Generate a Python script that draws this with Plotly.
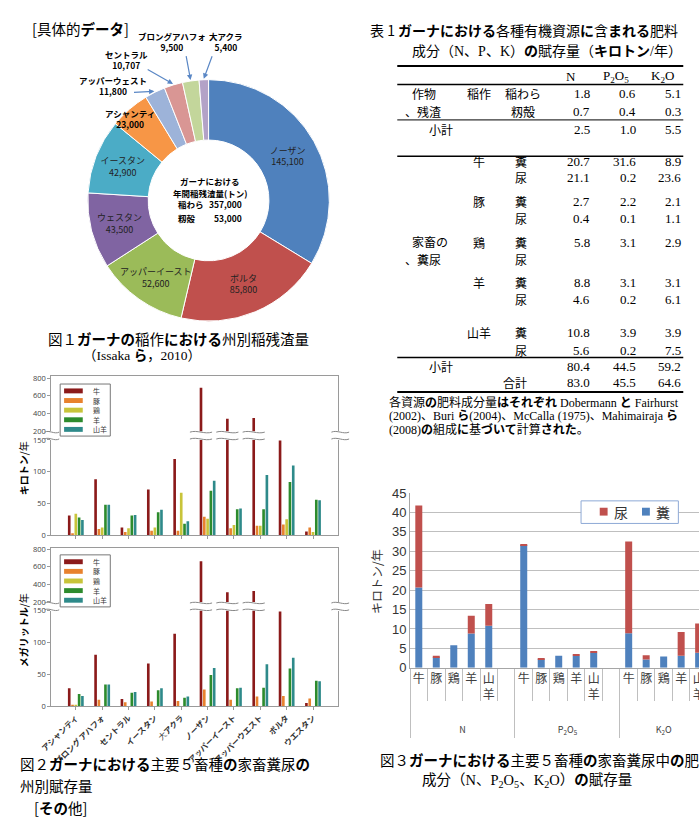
import re
import math
import plotly.graph_objects as go

W, H = 699, 826
def PX(x): return x / W
def PY(y): return 1 - y / H

JP = "Noto Sans CJK JP"
SERIF = "Liberation Serif, Noto Sans CJK JP"

def kb(s):
    return re.sub(r'([\u3041-\u30FF]+)', r'<b>\1</b>', s)

# ---------------- data ----------------
# Fig 1: rice residue by region (t)
rice_regions = ["ノーザン", "ボルタ", "アッパーイースト", "ウェスタン", "イースタン",
                "アシャンティ", "アッパーウェスト", "セントラル", "ブロング アハフォ", "大アクラ"]
rice_residue = [145100, 85800, 52600, 43500, 42900, 23000, 11800, 10707, 9500, 5400]
rice_colors = ["#4F81BD", "#C0504D", "#9BBB59", "#8064A2", "#4BACC6",
               "#F79646", "#9DB3D9", "#D99694", "#C3D69B", "#B3A2C7"]
rice_center_labels = ["稲わら", "籾殻"]
rice_center_values = [357000, 53000]

# Table 1 / Fig 3: nutrients (kt/yr)
nutrients = ["N", "P", "K"]
nutrient_labels = ["N", "P<sub>2</sub>O<sub>5</sub>", "K<sub>2</sub>O"]
rice_parts = ["稲わら", "籾殻"]
rice_nut = {"N": [1.8, 0.7], "P": [0.6, 0.4], "K": [5.1, 0.3]}
rice_sub = {"N": 2.5, "P": 1.0, "K": 5.5}
livestock = ["牛", "豚", "鶏", "羊", "山羊"]
feces_nut = {"N": [20.7, 2.7, 5.8, 8.8, 10.8], "P": [31.6, 2.2, 3.1, 3.1, 3.9], "K": [8.9, 2.1, 2.9, 3.1, 3.9]}
urine_nut = {"N": [21.1, 0.4, None, 4.6, 5.6], "P": [0.2, 0.1, None, 0.2, 0.2], "K": [23.6, 1.1, None, 6.1, 7.5]}
livestock_sub = {"N": 80.4, "P": 44.5, "K": 59.2}
grand_total = {"N": 83.0, "P": 45.5, "K": 64.6}
fig3_series = ["尿", "糞"]
fig3_colors = {"尿": "#C0504D", "糞": "#4F81BD"}

# Fig 2: manure by region
ls_regions = ["アシャンティ", "ブロング アハフォ", "セントラル", "イースタン", "大アクラ",
              "ノーザン", "アッパーイースト", "アッパーウエスト", "ボルタ", "ウエスタン"]
ls_colors = ["#8B1A1A", "#E8822E", "#C8C43A", "#2D8B2D", "#2E8A8A"]
feces_kt = {
    "牛": [31, 88, 12, 72, 120, 690, 340, 350, 149, 6],
    "豚": [3, 10, 5, 7, 7, 29, 11, 15, 17, 12],
    "鶏": [34, 12, 11, 12, 67, 26, 16, 15, 25, 5],
    "羊": [28, 48, 31, 36, 18, 70, 41, 41, 84, 56],
    "山羊": [24, 48, 32, 40, 22, 86, 42, 95, 110, 55],
}
urine_ml = {
    "牛": [28, 81, 11, 67, 114, 664, 311, 326, 149, 5],
    "豚": [2, 10, 6, 7, 8, 26, 10, 15, 16, 12],
    "鶏": [1, 0, 0, 0, 0, 0, 0, 0, 0, 0],
    "羊": [19, 34, 21, 25, 13, 49, 28, 29, 59, 40],
    "山羊": [16, 34, 22, 28, 15, 60, 29, 66, 76, 39],
}
BREAK_LOW, BREAK_HIGH = 150, 200

fig = go.Figure()
ann = []
shapes = []

def txt(s, x, y, size=14, xanchor="left", family=JP, color="black", angle=0, yanchor="middle"):
    if not s:
        return
    ann.append(dict(text=s, x=PX(x), y=PY(y), xref="paper", yref="paper", showarrow=False,
                    xanchor=xanchor, yanchor=yanchor, textangle=angle,
                    font=dict(size=size, family=family, color=color)))

def hline(y, x0, x1, w=1, color="black"):
    shapes.append(dict(type="line", xref="paper", yref="paper", x0=PX(x0), x1=PX(x1),
                       y0=PY(y), y1=PY(y), line=dict(color=color, width=w)))

def rect(x0, y0, x1, y1, fill, line_color=None, lw=0):
    shapes.append(dict(type="rect", xref="paper", yref="paper", x0=PX(x0), x1=PX(x1),
                       y0=PY(y1), y1=PY(y0), fillcolor=fill,
                       line=dict(color=line_color or fill, width=lw)))

# ---------------- Fig 1: donut ----------------
label_pos = {"アッパーイースト": (147, 275), "アシャンティ": (120, 114), "アッパーウェスト": (103, 80),
             "セントラル": (117, 53), "ブロング アハフォ": (163, 35), "大アクラ": (218, 35)}
label_bold = {"アッパーイースト": False}
arrow_start = {"アッパーウェスト": (123, 87), "セントラル": (137, 63),
               "ブロング アハフォ": (177, 49), "大アクラ": (204, 49)}
total = sum(rice_residue)
inside = [n not in label_pos for n in rice_regions]
pie_text = [f"{n}<br>{v:,}" if ins else "" for n, v, ins in zip(rice_regions, rice_residue, inside)]
cx, cy, r_out = 200, 197, 123
fig.add_trace(go.Pie(
    values=rice_residue, labels=rice_regions, text=pie_text, textinfo="text",
    textposition=["inside" if i else "none" for i in inside],
    insidetextorientation="horizontal", sort=False, direction="clockwise", rotation=0,
    hole=0.5, showlegend=False, hoverinfo="label+value",
    domain=dict(x=[PX(cx - r_out), PX(cx + r_out)], y=[PY(cy + r_out), PY(cy - r_out)]),
    marker=dict(colors=rice_colors, line=dict(color="white", width=1)),
    textfont=dict(size=9, family=JP, color="#222"),
))

cum = 0
for name, v, ins in zip(rice_regions, rice_residue, inside):
    a0 = cum / total * 360
    cum += v
    a1 = cum / total * 360
    if ins:
        continue
    mid = math.radians((a0 + a1) / 2)
    tipx = cx + (r_out + 1) * math.sin(mid)
    tipy = cy - (r_out + 1) * math.cos(mid)
    lx, ly = label_pos[name]
    if label_bold.get(name, True):
        s = f"<b>{name.replace(' ', '')}</b><br><b>{v:,}</b>"
        txt(s, lx, ly, size=8.5, xanchor="center")
    else:
        txt(f"{name}<br>{v:,}", lx, ly, size=9, xanchor="center", color="#222")
    if name in arrow_start:
        sx, sy = arrow_start[name]
        ann.append(dict(text="", x=PX(tipx), y=PY(tipy), ax=sx - tipx, ay=sy - tipy,
                        xref="paper", yref="paper", axref="pixel", ayref="pixel",
                        showarrow=True, arrowhead=2, arrowsize=0.9, arrowwidth=1.2,
                        arrowcolor="#5A87C5", standoff=0))

txt("<b>ガーナにおける</b>", 201, 177, size=8.5, xanchor="center")
txt("<b>年間稲残渣量(トン)</b>", 201, 189, size=8.5, xanchor="center")
for i, (lab, val) in enumerate(zip(rice_center_labels, rice_center_values)):
    yy = 201 + i * 14
    txt(f"<b>{lab}</b>", 167, yy, size=8.5)
    txt(f"<b>{val:,}</b>", 236, yy, size=8.5, xanchor="right")

txt(kb("[具体的データ]"), 18, 22, size=14.5)
txt(kb("図１ガーナの稲作における州別稲残渣量"), 35, 338, size=14.5)
txt(kb("（Issaka ら，2010）"), 70, 355, size=13.5, family=SERIF)

# ---------------- Table 1 ----------------
txt(kb("表 1 ガーナにおける各種有機資源に含まれる肥料"), 362, 23, size=14)
txt(kb("成分（N、P、K）の賦存量（キロトン/年）"), 405, 45, size=14, family=SERIF)
col_right = {"N": 590, "P": 637, "K": 683}
col_center = {"N": 569, "P": 615, "K": 662}
for n, lab in zip(nutrients, nutrient_labels):
    txt(lab, col_center[n], 71, size=13, xanchor="center", family=SERIF)

rice_rows_y = [88, 106]
rice_sub_y = 125
ls_rows_y = [(157, 174), (198, 215), (240, 257), (281, 298), (332, 350)]
ls_sub_y, total_y = 366, 382
fmt = lambda v: "" if v is None else f"{v:.1f}"
for k, part in enumerate(rice_parts):
    txt(part, 520, rice_rows_y[k], size=12, xanchor="center")
    for n in nutrients:
        txt(fmt(rice_nut[n][k]), col_right[n], rice_rows_y[k], size=13, xanchor="right", family=SERIF)
txt("作物", 405, 88, size=12)
txt("、残渣", 398, 106, size=12)
txt("稲作", 475, 88, size=12, xanchor="center")
txt("小計", 437, rice_sub_y, size=12, xanchor="center")
for n in nutrients:
    txt(fmt(rice_sub[n]), col_right[n], rice_sub_y, size=13, xanchor="right", family=SERIF)
txt("家畜の", 405, 239, size=12)
txt("、糞尿", 398, 257, size=12)
for k, an in enumerate(livestock):
    yf, yu = ls_rows_y[k]
    txt(an, 475, yf, size=12, xanchor="center")
    txt("糞", 518, yf, size=12, xanchor="center")
    txt("尿", 518, yu, size=12, xanchor="center")
    for n in nutrients:
        txt(fmt(feces_nut[n][k]), col_right[n], yf, size=13, xanchor="right", family=SERIF)
        txt(fmt(urine_nut[n][k]), col_right[n], yu, size=13, xanchor="right", family=SERIF)
txt("小計", 437, ls_sub_y, size=12, xanchor="center")
txt("合計", 512, total_y, size=12, xanchor="center")
for n in nutrients:
    txt(fmt(livestock_sub[n]), col_right[n], ls_sub_y, size=13, xanchor="right", family=SERIF)
    txt(fmt(grand_total[n]), col_right[n], total_y, size=13, xanchor="right", family=SERIF)
for yy, w in [(60, 2), (79, 1.5), (115, 1), (152, 1.5), (357, 1.5), (392, 2)]:
    hline(yy, 392, 683, w)
txt(kb("各資源の肥料成分量はそれぞれ Dobermann と Fairhurst"), 382, 403, size=12, family=SERIF)
txt(kb("(2002)、Buri ら(2004)、McCalla (1975)、Mahimairaja ら"), 382, 417, size=12, family=SERIF)
txt(kb("(2008)の組成に基づいて計算された。"), 382, 430, size=12, family=SERIF)

# ---------------- Fig 2: broken-axis bars ----------------
idx = list(range(len(ls_regions)))
XR = [-0.93, 9.96]
charts = [
    ("x", "y", "x2", "y2", feces_kt, (441, 538), (376, 432), 822),
    ("x3", "y3", "x4", "y4", urine_ml, (615, 712), (551, 606), 815),
]
bw, step = 0.1, 0.125
for (xl, yl, xu, yu, data, _, _, _) in charts:
    for j, an in enumerate(livestock):
        for xa, ya in [(xl, yl), (xu, yu)]:
            fig.add_trace(go.Bar(x=idx, y=data[an], xaxis=xa, yaxis=ya, width=bw,
                                 offset=-0.3 + j * step, marker=dict(color=ls_colors[j], line=dict(width=0)),
                                 showlegend=False, name=an))

axis_line = "#9A9A9A"
layout_axes = {}
amp = 2.5 / H
def wave(x0, x1, y):
    w = x1 - x0
    return f"M {x0},{y} C {x0 + w/3},{y + amp} {x0 + 2*w/3},{y - amp} {x1},{y}"

for ci, (xl, yl, xu, yu, data, lpx, upx, top) in enumerate(charts):
    last = ci == 1
    layout_axes["xaxis" + xl[1:]] = dict(
        domain=[PX(40), PX(332)], anchor=yl, range=XR, showline=True, linecolor=axis_line,
        ticks="outside", ticklen=3, tickcolor=axis_line, tickvals=idx,
        ticktext=[kb(r) for r in ls_regions], showticklabels=last, tickangle=-45,
        tickfont=dict(size=8, family=JP, color="#333"), showgrid=False, zeroline=False)
    layout_axes["xaxis" + xu[1:]] = dict(
        domain=[PX(40), PX(332)], anchor=yu, range=XR, side="top", showline=True,
        linecolor=axis_line, ticks="", showticklabels=False, showgrid=False, zeroline=False)
    layout_axes["yaxis" + yl[1:]] = dict(
        domain=[PY(lpx[1]), PY(lpx[0])], anchor=xl, range=[0, BREAK_LOW], tickvals=[0, 50, 100, 150],
        showline=True, mirror=True, linecolor=axis_line, ticks="outside", ticklen=3,
        tickcolor=axis_line, tickfont=dict(size=7.5, color="#444"), showgrid=False, zeroline=False)
    layout_axes["yaxis" + yu[1:]] = dict(
        domain=[PY(upx[1]), PY(upx[0])], anchor=xu, range=[BREAK_HIGH, top],
        tickvals=[200, 400, 600, 800], showline=True, mirror=True, linecolor=axis_line,
        ticks="outside", ticklen=3, tickcolor=axis_line, tickfont=dict(size=7.5, color="#444"),
        showgrid=False, zeroline=False)

    yb_top, yb_bot = PY(upx[1] + 1), PY(lpx[0] - 1)
    for (x0, x1) in [(PX(33), PX(48)), (PX(325), PX(343))]:
        for yy in (yb_top, yb_bot):
            shapes.append(dict(type="path", xref="paper", yref="paper", path=wave(x0, x1, yy),
                               line=dict(color="#888", width=1)))
    for i, v in enumerate(data["牛"]):
        if v > BREAK_HIGH:
            c = i - 0.3 + bw / 2
            for yy in (yb_top, yb_bot):
                shapes.append(dict(type="path", xref=xl, yref="paper",
                                   path=wave(c - 0.42, c + 0.42, yy), line=dict(color="#888", width=1)))

    ly0 = 384 if ci == 0 else 558
    rect(49, ly0, 100, ly0 + 53, "white", "#777", 1)
    for j, an in enumerate(livestock):
        yy = ly0 + 7 + j * 9.8
        rect(53, yy - 2.5, 72, yy + 2.5, ls_colors[j])
        txt(an, 80, yy, size=7, color="#333")

txt(kb("キロトン/年"), 12, 470, size=10, xanchor="center", angle=-90)
txt(kb("メガリットル/年"), 12, 635, size=10, xanchor="center", angle=-90)
txt(kb("図２ガーナにおける主要５畜種の家畜糞尿の"), 6, 770, size=14.5)
txt(kb("州別賦存量"), 6, 793, size=14.5)
txt(kb("[その他]"), 20, 815, size=14.5)

# ---------------- Fig 3: stacked bars ----------------
lvl1, lvl2, yf, yu, base_u = [], [], [], [], []
for n, nl in zip(nutrients, nutrient_labels):
    glab = f"<br><span style='font-size:9px'>{nl}</span>"
    for k, an in enumerate(livestock):
        lvl1.append(glab)
        lvl2.append(an if len(an) == 1 else "<br>".join(an))
        yf.append(feces_nut[n][k])
        yu.append(urine_nut[n][k])
        base_u.append(feces_nut[n][k])
    lvl1.append(glab)
    lvl2.append(" ")
    yf.append(None); yu.append(None); base_u.append(None)

fig.add_trace(go.Bar(x=[lvl1, lvl2], y=yf, xaxis="x5", yaxis="y5", name="糞", width=0.4,
                     showlegend=False, marker=dict(color=fig3_colors["糞"], line=dict(width=0))))
fig.add_trace(go.Bar(x=[lvl1, lvl2], y=yu, base=base_u, xaxis="x5", yaxis="y5", name="尿", width=0.4,
                     showlegend=False, marker=dict(color=fig3_colors["尿"], line=dict(width=0))))
layout_axes["xaxis5"] = dict(
    type="multicategory", domain=[PX(405), 1], anchor="y5", range=[-0.5, 16.02],
    showline=True, linecolor="#A6A6A6", ticks="outside", ticklen=32, tickcolor="#BFBFBF",
    showdividers=True, dividercolor="#BFBFBF", dividerwidth=1, tickangle=0,
    tickfont=dict(size=12, family=JP, color="#404040"), showgrid=False, zeroline=False)
layout_axes["yaxis5"] = dict(
    domain=[PY(673), PY(495)], anchor="x5", range=[0, 45], dtick=5, showgrid=True,
    gridcolor="#BFBFBF", showline=True, linecolor="#A6A6A6", ticks="",
    tickfont=dict(size=13, family="Liberation Sans", color="#333"), zeroline=False)
# legend box
rect(579, 503, 678, 526, "white", "#8EA9D6", 1)
for k, s in enumerate(fig3_series):
    x0 = 598 + k * 43
    rect(x0, 510, x0 + 8, 518, fig3_colors[s])
    txt(s, x0 + 12, 514, size=14, color="#333")
txt("キロトン/年", 371, 585, size=12, xanchor="center", angle=-90, color="#333")
txt(kb("図３ガーナにおける主要５畜種の家畜糞尿中の肥料"), 372, 766, size=14.5)
txt(kb("成分（N、P<sub>2</sub>O<sub>5</sub>、K<sub>2</sub>O）の賦存量"), 415, 788, size=14.5, family=SERIF)

fig.update_layout(
    width=W, height=H, margin=dict(l=0, r=0, t=0, b=0),
    paper_bgcolor="white", plot_bgcolor="white", barmode="overlay", showlegend=False,
    annotations=ann, shapes=shapes,
    **layout_axes,
)
fig.write_html("out.html")
